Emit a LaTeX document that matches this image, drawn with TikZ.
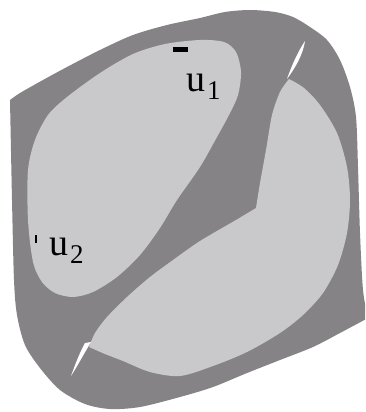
\documentclass[tikz,border=0pt]{standalone}
\usepackage{fontspec}
\setmainfont{Liberation Serif}
\definecolor{ringgray}{RGB}{133,131,133}
\definecolor{diskgray}{RGB}{201,200,202}
% label u with a lowered index
\newcommand\ulab[1]{u\hspace{2pt}\raisebox{-8pt}{\fontsize{27}{27}\selectfont #1}}

\begin{document}
\begin{tikzpicture}[
	x=1pt, y=-1pt,
	ring/.style={fill=ringgray},
	disk/.style={fill=diskgray},
	slit/.style={fill=white},
	tickmark/.style={fill=black},
	lab/.style={anchor=base west, inner sep=0pt, font=\fontsize{38}{38}\selectfont}
]
\useasboundingbox (0,0) rectangle (365,412);
\clip (0,0) rectangle (365,412);

% Outer dark region
\fill[ring] (10,100) -- plot[smooth] coordinates {(10,100) (20,93) (43,80) (67,67) (100,50) (133,35) (167,25) (200,18) (225,12) (250,10) (275,12) (293,17) (310,27) (327,40) (340,60) (350,87) (356,117) (358,167) (360,233) (363,290) (368,318)}
	-- plot[smooth] coordinates {(368,318) (340,333) (313,347) (280,360) (247,373) (213,387) (180,397) (140,407) (110,409) (85,404) (60,390) (40,368) (25,345) (17,315) (14,280) (12,200) (10,100)} -- cycle;

% Upper left light region
\fill[disk] plot[smooth cycle] coordinates {(200,40) (224,42) (236,52) (241,72) (238,95) (229,115) (217,137) (200,167) (177,200) (160,228) (140,255) (117,277) (93,292) (73,297) (55,293) (42,282) (33,262) (28,220) (28,170) (35,140) (48,115) (67,97) (100,73) (133,54) (165,44)};

% Lower right light region
\fill[disk] plot[smooth] coordinates {(289,79) (304,88) (320,105) (337,133) (347,167) (350,200) (347,233) (338,265) (323,293) (303,315) (280,333) (247,352) (213,366) (180,376) (150,372) (123,361) (105,354) (89,347)}
	-- plot[smooth] coordinates {(89,347) (95,333) (107,317) (127,297) (150,277) (173,260) (200,241) (236,220) (256,208)}
	-- plot[smooth] coordinates {(256,208) (260,183) (266,150) (272,115) (280,92) (289,79)} -- cycle;

% White slits
\fill[slit] (305,41) .. controls (303,55) and (295,68) .. (287,79) .. controls (293,62) and (299,50) .. (305,41);
\fill[slit] (91,342) .. controls (85,352) and (78,365) .. (71,376) .. controls (76,362) and (81,350) .. (85,343) -- cycle;

% Small marks
\fill[tickmark] (173,47) rectangle (188,52);
\fill[tickmark] (35,235) rectangle (37,243);

% Labels
\node[lab] (u1) at (186,92) {\ulab{1}};
\node[lab] (u2) at (49,255) {\ulab{2}};
\end{tikzpicture}
\end{document}
